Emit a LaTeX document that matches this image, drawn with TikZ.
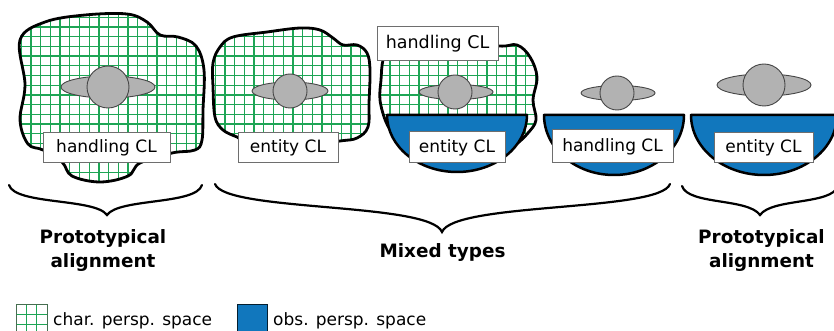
\documentclass[tikz,border=0pt]{standalone}
\usepackage{fontspec}
\setmainfont{DejaVu Sans}
\definecolor{gridgreen}{RGB}{30,165,85}
\definecolor{obsblue}{RGB}{17,119,189}
\definecolor{figgray}{RGB}{178,178,178}
\definecolor{figline}{RGB}{70,70,70}
\definecolor{boxline}{RGB}{110,110,110}
\tikzset{
  blobline/.style={line width=2.8pt, draw=black, fill=white, line join=round},
  gridline/.style={draw=gridgreen, line width=1.3pt},
  gridfill/.style={path picture={
    \foreach \i in {0,...,86}{
      \draw[gridline] (1.9+\i*9.7,0) -- (1.9+\i*9.7,200);
    }
    \foreach \j in {0,...,20}{
      \draw[gridline] (0,7.6+\j*9.7) -- (840,7.6+\j*9.7);
    }}},
  bowl/.style={fill=obsblue, draw=black, line width=2.5pt, line join=round},
  figpart/.style={fill=figgray, draw=figline, line width=0.9pt},
  clbox/.style={draw=boxline, fill=white, line width=1pt, inner sep=0pt, font=\fontsize{17}{20}\selectfont},
  grouplabel/.style={font=\bfseries\fontsize{18.4}{24}\selectfont, anchor=base},
  legendtext/.style={font=\fontsize{17}{20}\selectfont, anchor=base west, inner sep=0pt},
  bracestyle/.style={line width=2.2pt, line cap=round},
}
\begin{document}
\begin{tikzpicture}[x=1pt,y=-1pt]
\path[use as bounding box, clip] (0,0) rectangle (834,331);

% ---------- blob 1 ----------
\draw[blobline, gridfill] plot[smooth cycle, tension=0.6] coordinates {
  (20,40) (45,22) (85,15) (127,14) (147,22) (160,35) (178,37) (196,46) (204,70)
  (203,110) (202,140) (195,150) (172,153) (140,163) (128,176) (100,182) (72,176)
  (62,162) (43,150) (28,144) (20,120) (25,85)};
\draw[figpart] (108,87) ellipse [x radius=47, y radius=11];
\draw[figpart] (108,87) circle [radius=21];
\node[clbox, minimum width=127pt, minimum height=30pt] (b1) at (106.5,148) {handling CL};

% ---------- blob 2 ----------
\draw[blobline, gridfill] plot[smooth cycle, tension=0.6] coordinates {
  (220,47) (233,37) (267,32) (300,28) (320,30) (333,38) (343,45) (357,45) (367,53)
  (370,70) (369,103) (368,127) (357,138) (340,141) (300,146) (250,142) (237,137)
  (223,130) (215,117) (213,87) (213,63)};
\draw[figpart] (290,91) ellipse [x radius=38, y radius=9];
\draw[figpart] (290,91) circle [radius=17];
\node[clbox, minimum width=100pt, minimum height=30pt] (b2) at (288,148) {entity CL};

% ---------- blob 3 ----------
\draw[blobline, gridfill] plot[smooth cycle, tension=0.6] coordinates {
  (390,45) (440,40) (498,46) (517,45) (530,57) (537,77) (533,100) (536,120)
  (528,133) (515,145) (490,160) (457,165) (420,160) (395,135) (386,122)
  (380,100) (381,80) (383,60)};
\draw[bowl] (387,115) arc[start angle=180, end angle=0, x radius=70, y radius=57] -- cycle;
\draw[figpart] (456,92) ellipse [x radius=37, y radius=7.5];
\draw[figpart] (455,92) circle [radius=17];
\node[clbox, minimum width=121pt, minimum height=34pt, font=\fontsize{17.5}{20}\selectfont] (b3) at (437.5,44) {handling CL};
\node[clbox, minimum width=96pt, minimum height=31pt] (b4) at (457,147.5) {entity CL};

% ---------- blob 4 ----------
\draw[bowl] (544,115) arc[start angle=180, end angle=0, x radius=70, y radius=60] -- cycle;
\draw[figpart] (618,93) ellipse [x radius=37, y radius=7.5];
\draw[figpart] (617,93) circle [radius=17];
\node[clbox, minimum width=121pt, minimum height=33pt] (b5) at (612.5,146.5) {handling CL};

% ---------- blob 5 ----------
\draw[bowl] (691,115) arc[start angle=180, end angle=0, x radius=73, y radius=60] -- cycle;
\draw[figpart] (764,85) ellipse [x radius=47, y radius=11];
\draw[figpart] (764,85) circle [radius=21];
\node[clbox, minimum width=99pt, minimum height=30pt] (b6) at (763.5,148) {entity CL};

% ---------- braces ----------
\draw[bracestyle] (9,185) .. controls (15,205) and (95,198) .. (107,215)
                          .. controls (119,198) and (196,205) .. (202,185);
\draw[bracestyle] (215,184) .. controls (225,212) and (430,202) .. (442,232)
                            .. controls (454,202) and (660,212) .. (670,184);
\draw[bracestyle] (682,186) .. controls (688,205) and (748,198) .. (760,215)
                            .. controls (772,198) and (832,205) .. (838,186);

% ---------- labels ----------
\node[grouplabel] (l1a) at (103,243) {Prototypical};
\node[grouplabel] (l1b) at (103,267) {alignment};
\node[grouplabel] (l2) at (442.5,257) {Mixed types};
\node[grouplabel] (l3a) at (761.5,243) {Prototypical};
\node[grouplabel] (l3b) at (761.5,267) {alignment};

% ---------- legend ----------
\fill[white] (16,304) rectangle (47,335);
\foreach \k in {1,2} {
  \draw[gridline] (16+\k*10.33,304) -- (16+\k*10.33,335);
  \draw[gridline] (16,304+\k*10.33) -- (47,304+\k*10.33);
}
\draw[draw={rgb,255:red,70;green,110;blue,80}, line width=1pt] (16,304) rectangle (47,335);
\node[legendtext] (lt1) at (53,325) {char. persp. space};
\draw[fill=obsblue, draw=black!75!obsblue, line width=1pt] (237,304) rectangle (267,335);
\node[legendtext] (lt2) at (273,325) {obs. persp. space};
\end{tikzpicture}
\end{document}
